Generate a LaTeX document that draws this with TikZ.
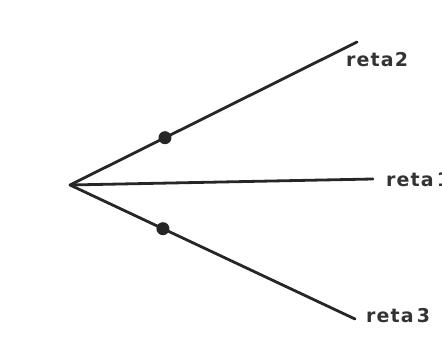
\documentclass[tikz,border=0pt]{standalone}
\usepackage{fontspec}
\setmainfont{DejaVu Sans}
\newfontfamily\rotfont[LetterSpace=6]{DejaVu Sans}
\newcommand\rotfmt{\rotfont\bfseries\fontsize{19}{21}\selectfont\spaceskip=3pt\relax}
\begin{document}
\begin{tikzpicture}[x=1pt,y=1pt,
  reta/.style={line width=2.8pt,line cap=round,draw=black!85},
  ponto/.style={circle,fill=black!85,inner sep=0pt,minimum size=13pt},
  rotulo/.style={anchor=base west,inner sep=0pt,font=\rotfmt,text=black!80}]
\useasboundingbox (0,0) rectangle (442,343);
\coordinate (O) at (70,158);
\coordinate (E2) at (357,301);
\coordinate (E1) at (373,164);
\coordinate (E3) at (355,24);
\draw[reta] (O) -- (E2) node[ponto,pos=0.331] (P2) {};
\draw[reta] (O) -- (E1);
\draw[reta] (O) -- (E3) node[ponto,pos=0.326] (P3) {};
\node[rotulo] (L2) at (346,276) {reta2};
\node[rotulo] (L1) at (386,156) {reta 1};
\node[rotulo] (L3) at (366,20) {reta 3};
\end{tikzpicture}
\end{document}
